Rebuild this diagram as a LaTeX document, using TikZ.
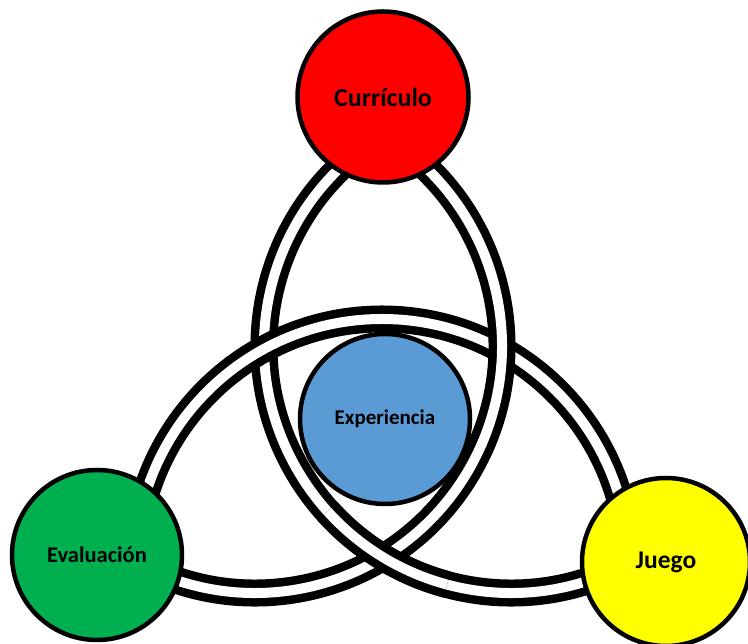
\documentclass[tikz,border=0pt]{standalone}
\usepackage{fontspec}
\setmainfont{Carlito}
\usepackage{tikz}
\usetikzlibrary{calc,backgrounds}
\definecolor{currred}{HTML}{FF0000}
\definecolor{evalgreen}{HTML}{00B050}
\definecolor{juegoyellow}{HTML}{FFFF00}
\definecolor{expblue}{HTML}{5B9BD5}
\newcommand{\bandcolor}{black}
\newcommand{\band}{27pt}
\newcommand{\gapw}{10pt}
\newcommand{\rad}{247}
\newcommand{\rim}{4.5pt}

\begin{document}
\begin{tikzpicture}[x=1pt, y=1pt,
  ring/.style={circle, draw, line width=\rim, inner sep=0pt, font=\bfseries},
  bandline/.style={\bandcolor, line width=\band},
  bandgap/.style={white, line width=\gapw}]
\useasboundingbox (0, 0) rectangle (748, 644);
\node[ring, fill=currred] (curriculo) at (383, 547) [minimum size=171pt] {\fontsize{26}{30}\selectfont Currículo};
\node[ring, fill=evalgreen] (evaluacion) at (97, 89) [minimum size=170pt] {\fontsize{22.5}{27}\selectfont Evaluación};
\node[ring, fill=juegoyellow] (juego) at (666, 82) [minimum size=168pt] {\fontsize{25.5}{30}\selectfont Juego};
\node[ring, fill=expblue] (experiencia) at (385, 225) [minimum size=170pt] {\fontsize{21}{25}\selectfont Experiencia};
\coordinate (lc) at (511, 298);
\coordinate (rc) at (255, 298);
\coordinate (tc) at (382, 78);
%curriculo-juego
\begin{scope}[on background layer]
\draw[bandline] ([shift={(120:\rad)}]lc) arc (120:300:\rad);
\draw[bandgap] ([shift={(120:\rad)}]lc) arc (120:300:\rad);
\end{scope}
%evaluacion-juego
\begin{scope}[on background layer]
\draw[bandline] ([shift={(180:\rad)}]tc) arc (180:0:\rad);
\draw[bandgap] ([shift={(180:\rad)}]tc) arc (180:0:\rad);
\end{scope}
%curriculo-evaluacion
\begin{scope}[on background layer]
\draw[bandline] ([shift={(60:\rad)}]rc) arc (60:-120:\rad);
\draw[bandgap] ([shift={(60:\rad)}]rc) arc (60:-120:\rad);
\end{scope}
%curriculo-juego again, over the bottom crossing
\begin{scope}[on background layer]
\draw[bandline] ([shift={(222:\rad)}]lc) arc (222:255:\rad);
\draw[bandgap] ([shift={(222:\rad)}]lc) arc (222:255:\rad);
\end{scope}
\end{tikzpicture}
\end{document}
